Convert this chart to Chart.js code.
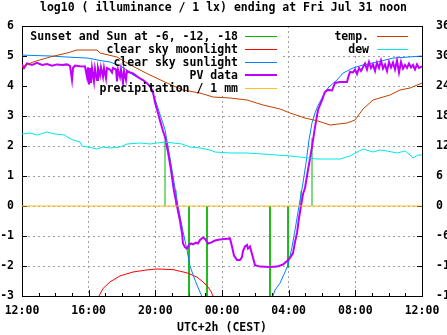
<!DOCTYPE html>
<html>
<head>
<meta charset="utf-8">
<title>log10 illuminance</title>
<script src="https://cdn.jsdelivr.net/npm/chart.js@4.4.1/dist/chart.umd.min.js"></script>
<style>
  html, body { margin: 0; padding: 0; background: #fff; }
  canvas { display: block; }
</style>
</head>
<body>
<canvas id="illumChart" width="447" height="335"></canvas>
<script>
// x values are hours after Thu 12:00 (UTC+2h), so 24 = Fri 12:00
const xTickLabels = ['12:00', '16:00', '20:00', '00:00', '04:00', '08:00', '12:00'];

// sunset / sun at -6, -12, -18 (evening) and back again (morning)
const sunEventHours = [8.58, 9.24, 10.02, 11.1, 14.88, 15.96, 16.74, 17.4];
const sunEventTops = [2.17, 0.53, -3, -3, -3, -2.05, 0.5, 2.27];

// clear sky moonlight, log10 lx
const moonHours = [4.62, 4.86, 5.28, 5.88, 6.66, 7.5, 8.1, 9.06, 9.9, 10.5, 10.86, 11.16, 11.34, 11.46];
const moonValues = [-3.0, -2.75, -2.53, -2.33, -2.2, -2.13, -2.1, -2.12, -2.23, -2.37, -2.53, -2.7, -2.85, -3.0];

// clear sky sunlight, log10 lx (null = below the plot during the night)
const sunHours = [0, 1.68, 2.88, 3.96, 4.68, 5.28, 5.88, 6.3, 6.66, 7.08, 7.38, 7.68, 7.98, 8.28, 8.58, 8.88, 9.12, 9.36,
    9.66, 9.9, 10.08, 10.38, 10.68, 10.86, 12.9,
    15.0, 15.18, 15.48, 15.78, 15.96, 16.2, 16.38, 16.62, 16.86, 17.04, 17.22, 17.4, 17.58, 17.76, 18.0, 18.24, 18.48,
    18.9, 19.26, 19.86, 20.46, 21.3, 22.26, 23.28, 24];
const sunValues = [5.03, 5.0, 4.96, 4.93, 4.85, 4.8, 4.67, 4.53, 4.37, 4.25, 4.13, 3.97, 3.57, 3.05, 2.55, 1.6, 0.8, 0.0,
    -0.85, -1.47, -2.0, -2.47, -2.87, -3.1, null,
    -3.1, -2.8, -2.57, -2.2, -1.97, -1.37, -0.8, 0.0, 0.77, 1.43, 2.2, 2.77, 3.1, 3.35, 3.6, 3.85, 4.0,
    4.2, 4.43, 4.6, 4.7, 4.8, 4.93, 4.97, 5.0];

// PV data, log10 lx
const pvHours = [0, 0.12, 0.3, 0.6, 0.9, 1.2, 1.5, 1.8, 2.1, 2.4, 2.7, 2.88, 3.0, 3.06, 3.18, 3.48, 3.78, 3.9, 3.96,
    4.02, 4.08, 4.14, 4.2, 4.32, 4.38, 4.5, 4.56, 4.68, 4.74, 4.86, 4.92, 5.04, 5.1, 5.28, 5.4, 5.46, 5.64, 5.7, 5.76,
    5.88, 5.94, 6.06, 6.12, 6.24, 6.3, 6.48, 6.66, 6.9, 7.08, 7.26, 7.44, 7.68, 7.86, 7.98, 8.16, 8.28, 8.46, 8.58,
    8.76, 8.94, 9.12, 9.3, 9.48, 9.6, 9.66, 9.78, 9.9, 10.02, 10.14, 10.26, 10.44, 10.56, 10.68, 10.86, 10.98, 11.16,
    11.34, 11.58, 11.88, 12.18, 12.48, 12.6, 12.72, 12.9, 13.08, 13.2, 13.26, 13.38, 13.5, 13.56, 13.68, 13.8, 13.98,
    14.28, 14.88, 15.3, 15.66, 15.9, 16.08, 16.26, 16.38, 16.5, 16.62, 16.74, 16.86, 16.98, 17.16, 17.4, 17.58, 17.76,
    18.0, 18.18, 18.36, 18.6, 18.78, 19.08, 19.5, 19.56, 19.68, 19.86, 19.98, 20.1, 20.22, 20.34, 20.46, 20.58, 20.7,
    20.82, 20.94, 21.06, 21.18, 21.3, 21.42, 21.54, 21.66, 21.78, 21.9, 22.02, 22.14, 22.26, 22.38, 22.5, 22.62, 22.74,
    22.86, 22.98, 23.1, 23.22, 23.34, 23.46, 23.58, 23.7, 23.82, 24];
const pvValues = [4.72, 4.6, 4.75, 4.7, 4.77, 4.7, 4.73, 4.68, 4.72, 4.7, 4.72, 4.67, 4.2, 4.6, 4.68, 4.66, 4.65, 4.3, 4.62,
    4.05, 4.6, 4.1, 4.6, 4.15, 4.58, 4.2, 4.6, 4.35, 4.62, 4.3, 4.6, 4.25, 4.6, 4.55, 4.45, 4.6, 4.55, 4.15, 4.55,
    4.3, 4.55, 4.1, 4.5, 4.2, 4.5, 4.45, 4.42, 4.32, 4.25, 4.2, 4.12, 4.0, 3.8, 3.45, 3.1, 2.85, 2.5, 2.3,
    1.8, 1.2, 0.5, 0.0, -0.5, -0.9, -1.25, -1.38, -1.42, -1.3, -1.25, -1.28, -1.22, -1.25, -1.13, -1.05, -1.1, -1.25,
    -1.22, -1.15, -1.12, -1.1, -1.08, -1.35, -1.65, -1.8, -1.8, -1.7, -1.5, -1.35, -1.3, -1.42, -1.35, -1.6, -1.97,
    -2.02, -2.03, -2.02, -1.95, -1.83, -1.73, -1.57, -1.2, -0.9, -0.4, 0.0, 0.4, 0.6, 1.2, 1.97, 2.63, 3.2,
    3.53, 3.8, 3.87, 3.85, 4.1, 4.13, 4.13, 4.27, 4.47, 4.45, 4.55, 4.4, 4.6, 4.5, 4.63, 4.75, 4.55,
    4.8, 4.6, 4.72, 4.5, 4.78, 4.6, 4.85, 4.58, 4.72, 4.5, 4.8, 4.62, 4.78, 4.55, 4.85, 4.45, 4.8,
    4.58, 4.7, 4.6, 4.75, 4.62, 4.7, 4.55, 4.72, 4.6, 4.65];

// precipitation / 1 mm (none)
const precipHours = [0, 24];
const precipValues = [0, 0];

// temperature and dew point, degC (right axis)
const tempHours = [0, 0.66, 1.68, 2.7, 3.3, 4.5, 4.68, 5.7, 6.3, 7.08, 7.68, 8.7, 9.66, 10.68, 11.46, 12.48, 13.5,
    14.46, 15.48, 16.08, 16.98, 17.76, 18.48, 19.5, 19.98, 20.46, 21.06, 22.08, 22.68, 23.28, 24];
const tempValues = [27.8, 28.8, 29.8, 30.6, 31.2, 31.2, 30.6, 29.8, 28.6, 27.2, 26.2, 24.6, 23.2, 22.6, 21.8, 21.6, 21.2,
    20.2, 19.4, 18.6, 17.6, 17.0, 16.2, 16.6, 17.2, 19.4, 21.2, 22.2, 23.2, 23.6, 24.6];
const dewHours = [0, 0.48, 0.9, 1.5, 1.98, 2.58, 2.7, 3.06, 3.48, 3.6, 3.96, 4.5, 4.86, 5.28, 5.88, 6.3, 7.08, 7.68,
    8.1, 8.58, 9.06, 9.6, 10.08, 10.68, 11.28, 11.58, 12.48, 13.5, 14.46, 16.08, 16.68, 17.7, 19.08, 19.68, 20.1,
    20.46, 21.06, 21.48, 21.9, 22.5, 22.98, 23.28, 23.46, 23.76, 24];
const dewValues = [14.4, 14.6, 14.2, 14.8, 14.4, 14.2, 13.8, 13.2, 12.8, 12.0, 11.8, 11.4, 11.8, 11.6, 11.8, 12.4, 12.6, 12.4,
    12.6, 12.8, 12.6, 12.4, 11.8, 11.6, 11.2, 10.8, 10.6, 10.6, 10.4, 10.0, 9.8, 9.4, 9.4, 10.0, 10.8,
    11.4, 10.8, 11.2, 11.0, 10.6, 11.0, 10.2, 9.6, 10.2, 10.2];

const monoFont = '"DejaVu Sans Mono", "Liberation Mono", monospace';
const gridColor = '#a0a0a0';

// zip hours + values into {x, y} points
function toPoints(hours, values) {
    return hours.map((h, i) => ({ x: h, y: values[i] }));
}

// each sun event is a vertical stroke from 0 to its top
function sunEventPoints() {
    const pts = [];
    sunEventHours.forEach((h, i) => {
        pts.push({ x: h, y: 0 }, { x: h, y: sunEventTops[i] }, { x: h, y: null });
    });
    return pts;
}

// key entries: [label, colour, width]
const leftKey = [
    ['Sunset and Sun at -6, -12, -18', '#00b400', 1],
    ['clear sky moonlight', '#ff0000', 1],
    ['clear sky sunlight', '#0080ff', 1],
    ['PV data', '#c000ff', 2],
    ['precipitation / 1 mm', '#ffc020', 1]
];
const rightKey = [
    ['temp.', '#c04000', 1],
    ['dew', '#00e8e8', 1]
];

// gnuplot style opaque key: box + sample lines before the data, text after it
const keyPlugin = {
    id: 'gnuplotKey',
    beforeDatasetsDraw(chart) {
        const ctx = chart.ctx;
        const ca = chart.chartArea;
        ctx.save();
        ctx.fillStyle = '#fff';
        ctx.fillRect(ca.left + 1, ca.top + 1, 259, 68);
        ctx.fillRect(ca.left + 308, ca.top + 1, 86, 28);

        // top border (chart.js only draws the axis borders)
        ctx.strokeStyle = '#000';
        ctx.lineWidth = 1;
        ctx.beginPath();
        ctx.moveTo(ca.left, Math.round(ca.top) + 0.5);
        ctx.lineTo(ca.right, Math.round(ca.top) + 0.5);
        ctx.stroke();

        // inward tick marks
        const xs = chart.scales.x, ys = chart.scales.y, y2 = chart.scales.y2;
        const bottom = Math.round(ca.bottom);
        for (let h = 0; h <= 24; h++) {
            const px = Math.round(xs.getPixelForValue(h)) + 0.5;
            const len = h % 4 === 0 ? 6 : 3;
            ctx.beginPath();
            ctx.moveTo(px, bottom);
            ctx.lineTo(px, bottom - len);
            ctx.stroke();
        }
        ys.ticks.forEach(t => {
            const py = Math.round(ys.getPixelForValue(t.value)) + 0.5;
            ctx.beginPath();
            ctx.moveTo(ca.left, py);
            ctx.lineTo(ca.left + 5, py);
            ctx.stroke();
        });
        y2.ticks.forEach(t => {
            const py = Math.round(y2.getPixelForValue(t.value)) + 0.5;
            ctx.beginPath();
            ctx.moveTo(ca.right, py);
            ctx.lineTo(ca.right - 5, py);
            ctx.stroke();
        });

        // key sample lines
        drawSamples(ctx, leftKey, ca.left + 223, ca.left + 255, ca.top + 10);
        drawSamples(ctx, rightKey, ca.left + 355, ca.left + 386, ca.top + 10);
        ctx.restore();
    },
    afterDatasetsDraw(chart) {
        const ctx = chart.ctx;
        const ca = chart.chartArea;
        ctx.save();
        ctx.font = 'bold 11.5px ' + monoFont;
        ctx.fillStyle = '#000';
        ctx.textAlign = 'right';
        ctx.textBaseline = 'middle';
        leftKey.forEach((k, i) => ctx.fillText(k[0], ca.left + 216, ca.top + 11 + i * 13));
        rightKey.forEach((k, i) => ctx.fillText(k[0], ca.left + 347, ca.top + 11 + i * 13));
        ctx.restore();
    }
};

function drawSamples(ctx, entries, x1, x2, top) {
    entries.forEach((k, i) => {
        const y = top + i * 13 + (k[2] === 2 ? 0 : 0.5);
        ctx.strokeStyle = k[1];
        ctx.lineWidth = k[2];
        ctx.beginPath();
        ctx.moveTo(x1, y);
        ctx.lineTo(x2, y);
        ctx.stroke();
    });
}

function lineSet(label, data, color, width, axis, order) {
    return {
        label: label,
        data: data,
        borderColor: color,
        borderWidth: width,
        pointRadius: 0,
        tension: 0,
        fill: false,
        spanGaps: false,
        yAxisID: axis,
        order: order // higher order is drawn first, like gnuplot plot order
    };
}

function setupChart() {
    const ctx = document.getElementById('illumChart').getContext('2d');
    const tickFont = { family: monoFont, size: 11.5, weight: 'bold' };

    return new Chart(ctx, {
        type: 'line',
        data: {
            datasets: [
                lineSet('Sunset and Sun at -6, -12, -18', sunEventPoints(), leftKey[0][1], 1, 'y', 7),
                lineSet('clear sky moonlight', toPoints(moonHours, moonValues), leftKey[1][1], 1, 'y', 6),
                lineSet('clear sky sunlight', toPoints(sunHours, sunValues), leftKey[2][1], 1, 'y', 5),
                lineSet('PV data', toPoints(pvHours, pvValues), leftKey[3][1], 2, 'y', 4),
                lineSet('precipitation / 1 mm', toPoints(precipHours, precipValues), leftKey[4][1], 1, 'y', 3),
                lineSet('temp.', toPoints(tempHours, tempValues), rightKey[0][1], 1, 'y2', 2),
                lineSet('dew', toPoints(dewHours, dewValues), rightKey[1][1], 1, 'y2', 1)
            ]
        },
        options: {
            responsive: false,
            animation: false,
            events: [],
            layout: { padding: 0 },
            plugins: {
                legend: { display: false },
                tooltip: { enabled: false },
                title: {
                    display: true,
                    text: 'log10 ( illuminance / 1 lx) ending at Fri Jul 31 noon',
                    color: '#000',
                    font: tickFont,
                    padding: { top: 1.2, bottom: 11 }
                }
            },
            scales: {
                x: {
                    type: 'linear',
                    min: 0,
                    max: 24,
                    afterFit: scale => {
                        scale.height = 39;
                        // end labels may hang over the side axes, like in gnuplot
                        scale.paddingLeft = 0;
                        scale.paddingRight = 0;
                    },
                    ticks: {
                        stepSize: 1,
                        autoSkip: false,
                        maxRotation: 0,
                        padding: 8,
                        color: '#000',
                        font: tickFont,
                        callback: v => (v % 4 === 0 ? xTickLabels[v / 4] : '')
                    },
                    grid: {
                        drawTicks: false,
                        color: c => (c.tick && c.tick.value % 4 === 0 ? gridColor : 'rgba(0,0,0,0)')
                    },
                    border: { display: true, color: '#000', width: 1, dash: [2, 3] },
                    title: {
                        display: true,
                        text: 'UTC+2h (CEST)',
                        color: '#000',
                        font: { family: monoFont, size: 11.5, weight: 'bold', lineHeight: 1 },
                        padding: { top: 0, bottom: 1 }
                    }
                },
                y: {
                    position: 'left',
                    min: -3,
                    max: 6,
                    afterFit: scale => { scale.width = 22; },
                    ticks: { stepSize: 1, padding: 8, color: '#000', font: tickFont },
                    grid: { drawTicks: false, color: gridColor },
                    border: { display: true, color: '#000', width: 1, dash: [2, 3] }
                },
                y2: {
                    position: 'right',
                    min: -18,
                    max: 36,
                    afterFit: scale => { scale.width = 25; },
                    ticks: { stepSize: 6, padding: 14, color: '#000', font: tickFont },
                    grid: { drawTicks: false, drawOnChartArea: false },
                    border: { display: true, color: '#000', width: 1 }
                }
            }
        },
        plugins: [keyPlugin]
    });
}

setupChart();
</script>
</body>
</html>
